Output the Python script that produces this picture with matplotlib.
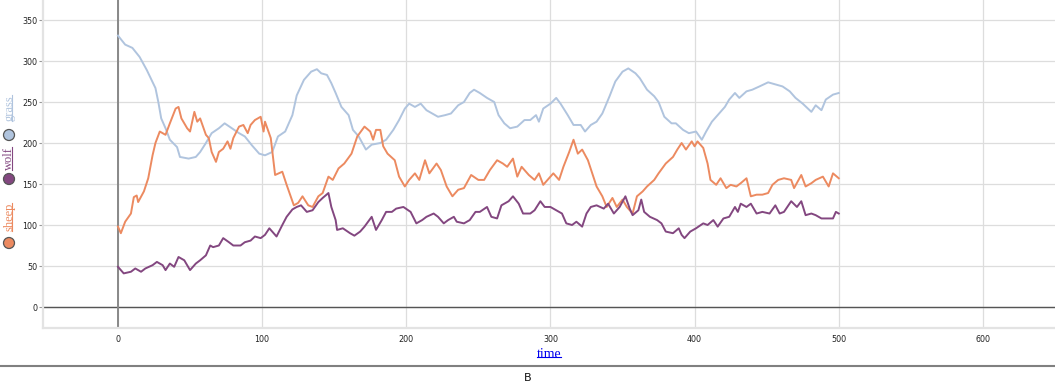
"""
Predator / prey simulation chart (grass, sheep, wolf over time)
"""
import matplotlib
matplotlib.use("Agg")
import matplotlib.pyplot as plt
from matplotlib.patches import Circle

# ---- data ----
grass_t = [0, 5, 10, 15, 20, 26, 28, 30, 33, 36, 41, 43, 49, 54, 57, 61, 65, 70, 74, 79,
           84, 88, 93, 98, 102, 107, 111, 116, 121, 124, 129, 134, 138, 141, 145, 148, 151,
           155, 160, 163, 167, 172, 176, 182, 186, 191, 195, 199, 202, 206, 210, 214, 218,
           222, 227, 231, 236, 240, 244, 247, 251, 256, 261, 264, 268, 272, 277, 282, 286,
           290, 292, 295, 300, 304, 307, 312, 316, 321, 324, 328, 332, 336, 341, 345, 350,
           354, 359, 362, 367, 372, 375, 379, 384, 387, 392, 396, 401, 405, 408, 412, 416,
           421, 424, 428, 431, 436, 440, 445, 451, 455, 461, 466, 470, 475, 481, 484, 488,
           491, 496, 500]
grass = [331, 320, 316, 305, 289, 267, 250, 230, 218, 204, 195, 183, 181, 183, 189, 200, 212,
         218, 224, 218, 212, 208, 197, 187, 185, 189, 208, 214, 234, 258, 277, 287, 290, 285,
         283, 273, 261, 244, 234, 216, 208, 192, 198, 200, 204, 216, 228, 242, 248, 244, 248,
         240, 236, 232, 234, 236, 246, 250, 261, 265, 261, 255, 250, 234, 224, 218, 220, 228,
         228, 234, 226, 242, 248, 255, 248, 234, 222, 222, 214, 222, 226, 236, 257, 275, 287,
         291, 285, 279, 265, 257, 250, 232, 224, 224, 216, 212, 214, 204, 214, 226, 234, 244,
         253, 261, 255, 263, 265, 269, 274, 272, 269, 263, 255, 248, 238, 246, 240, 253, 259,
         261]

sheep_t = [0, 2, 5, 9, 11, 13, 14, 18, 21, 24, 26, 29, 33, 36, 40, 42, 44, 48, 50, 53, 55,
           57, 61, 63, 65, 68, 70, 73, 76, 78, 80, 84, 87, 90, 92, 95, 99, 101, 102, 106, 109,
           114, 117, 122, 125, 128, 132, 135, 139, 142, 146, 149, 153, 157, 162, 166, 171,
           175, 177, 179, 182, 184, 187, 192, 195, 199, 202, 206, 209, 213, 216, 221, 224,
           228, 232, 236, 240, 245, 250, 254, 258, 263, 267, 270, 274, 277, 280, 285, 289,
           292, 295, 299, 302, 306, 309, 313, 316, 319, 322, 326, 329, 332, 336, 339, 343,
           346, 350, 353, 357, 360, 364, 367, 372, 375, 380, 385, 388, 391, 394, 398, 400,
           402, 406, 409, 411, 415, 418, 422, 425, 429, 432, 436, 439, 443, 447, 451, 454,
           458, 462, 467, 469, 474, 477, 481, 484, 489, 493, 496, 500]
sheep = [98, 90, 104, 114, 134, 136, 128, 141, 157, 185, 200, 214, 210, 224, 242, 244, 230,
         218, 214, 238, 226, 230, 210, 206, 189, 177, 189, 193, 202, 193, 206, 220, 222, 212,
         222, 228, 232, 214, 226, 206, 161, 165, 149, 124, 127, 135, 124, 122, 135, 139, 159,
         155, 169, 175, 187, 208, 220, 214, 204, 216, 216, 196, 187, 179, 159, 147, 155, 163,
         155, 179, 163, 175, 167, 147, 135, 143, 145, 161, 155, 155, 167, 179, 175, 171, 181,
         159, 171, 161, 155, 163, 149, 157, 163, 155, 171, 189, 204, 187, 192, 179, 163, 147,
         135, 122, 133, 122, 131, 122, 114, 135, 141, 147, 155, 163, 175, 183, 192, 200, 192,
         202, 196, 202, 194, 175, 155, 149, 157, 145, 149, 147, 151, 157, 135, 137, 137, 139,
         149, 155, 157, 155, 145, 161, 147, 151, 155, 159, 147, 163, 157]

wolf_t = [0, 4, 9, 12, 16, 19, 24, 27, 31, 33, 36, 39, 42, 46, 48, 50, 54, 57, 61, 64, 66,
          70, 73, 77, 80, 85, 88, 92, 95, 99, 102, 105, 107, 110, 114, 117, 121, 124, 127,
          131, 135, 139, 142, 146, 148, 151, 152, 156, 161, 164, 168, 171, 176, 179, 183,
          186, 190, 193, 198, 203, 207, 211, 214, 219, 222, 226, 229, 233, 235, 240, 244,
          248, 251, 256, 259, 263, 266, 271, 274, 278, 281, 286, 289, 293, 296, 300, 304,
          308, 311, 315, 318, 322, 325, 328, 332, 337, 340, 344, 348, 352, 355, 357, 361,
          363, 365, 369, 374, 377, 380, 385, 389, 391, 393, 397, 401, 406, 409, 413, 416,
          420, 424, 428, 430, 432, 436, 439, 443, 447, 452, 456, 459, 462, 467, 471, 474,
          477, 481, 484, 488, 492, 496, 498, 500]
wolf = [49, 41, 43, 47, 43, 47, 51, 55, 51, 45, 53, 49, 61, 57, 51, 45, 53, 57, 63, 75, 73,
        75, 84, 79, 75, 75, 79, 81, 86, 84, 88, 96, 92, 86, 100, 110, 119, 122, 124, 116, 118,
        128, 133, 139, 122, 106, 94, 96, 90, 87, 92, 98, 110, 94, 106, 116, 116, 120, 122, 116,
        102, 106, 110, 114, 110, 102, 106, 110, 104, 102, 106, 116, 116, 122, 110, 108, 124,
        129, 135, 126, 114, 114, 118, 129, 122, 122, 118, 114, 102, 100, 104, 98, 114, 122,
        124, 120, 126, 114, 122, 135, 120, 112, 118, 131, 116, 110, 106, 102, 92, 90, 96, 88,
        84, 92, 96, 102, 100, 106, 98, 108, 110, 122, 116, 126, 122, 126, 114, 116, 114, 124,
        114, 116, 129, 122, 129, 112, 114, 112, 108, 108, 108, 116, 114]

series_names = ["grass", "wolf", "sheep"]
series_colors = {"grass": "#b0c4de", "wolf": "#834780", "sheep": "#ec8a60"}

x_ticks = [0, 100, 200, 300, 400, 500, 600]
y_ticks = [0, 50, 100, 150, 200, 250, 300, 350]

W, H = 1055, 385
fig = plt.figure(figsize=(W / 100, H / 100), dpi=100)

# main plot area
ax = fig.add_axes([43 / W, (H - 328) / H, (W - 43) / W, 328 / H])
ax.set_xlim(-52, 650)
ax.set_ylim(-25.6, 374.4)
ax.set_xticks(x_ticks)
ax.set_yticks(y_ticks)
ax.grid(True, color="#dddddd", linewidth=0.9)
ax.set_axisbelow(True)
for side in ["top", "right"]:
    ax.spines[side].set_visible(False)
for side in ["left", "bottom"]:
    ax.spines[side].set_color("#e3e3e3")
    ax.spines[side].set_linewidth(1.6)
ax.tick_params(axis="y", length=3, width=0.8, color="#999999", pad=1,
               labelsize=5.8, labelcolor="#222222")
ax.tick_params(axis="x", length=0, pad=5, labelsize=5.8, labelcolor="#222222")
ax.axhline(0, color="#555555", linewidth=1.0, zorder=1)
ax.axvline(0, color="#888888", linewidth=1.4, zorder=1)

ax.plot(grass_t, grass, color=series_colors["grass"], linewidth=1.4, zorder=3)
ax.plot(sheep_t, sheep, color=series_colors["sheep"], linewidth=1.4, zorder=4)
ax.plot(wolf_t, wolf, color=series_colors["wolf"], linewidth=1.4, zorder=5)

# overlay in pixel coordinates for the html-like decorations
ov = fig.add_axes([0, 0, 1, 1], zorder=10)
ov.set_xlim(0, W)
ov.set_ylim(H, 0)
ov.axis("off")
ov.patch.set_alpha(0)

ov.plot([0, W], [366, 366], color="#808080", linewidth=1.5)
ov.text(528, 378, "B", fontsize=8, ha="center", va="center", color="#111111")

time_txt = ov.text(549, 354, "time", fontsize=10, family="Liberation Serif",
                   color="#0000ee", ha="center", va="center")

# legend along the left edge: circle + rotated, underlined label
legend_circles = {"grass": 135, "wolf": 179, "sheep": 243}
legend_labels = {"grass": 108, "wolf": 158, "sheep": 217}
label_items = []
for name in series_names:
    ov.add_patch(Circle((9, legend_circles[name]), 5.5, facecolor=series_colors[name],
                        edgecolor="#555555", linewidth=0.9))
    t = ov.text(9, legend_labels[name], name, fontsize=9, family="Liberation Serif",
                color=series_colors[name], rotation=90, ha="center", va="center")
    label_items.append((t, series_colors[name]))

# underlines
fig.canvas.draw()
bb = time_txt.get_window_extent()
uy = H - (bb.y0 + 3.2)
ov.plot([bb.x0, bb.x1], [uy, uy], color="#0000ee", linewidth=0.8)
for t, c in label_items:
    bb = t.get_window_extent()
    ux = bb.x1 - 3.2
    ov.plot([ux, ux], [H - bb.y0, H - bb.y1], color=c, linewidth=0.8)

fig.savefig("out.png", dpi=100)
